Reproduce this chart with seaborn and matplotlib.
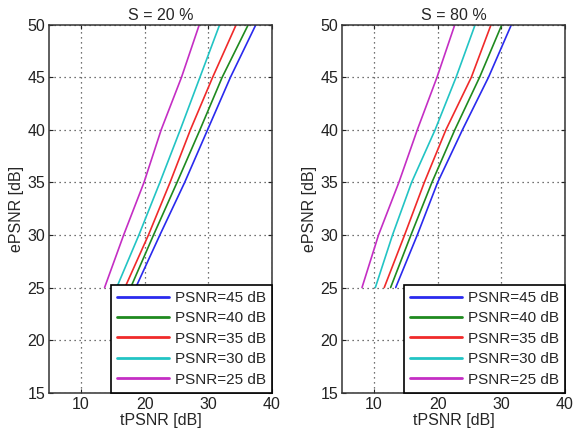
import matplotlib
matplotlib.use("Agg")
import matplotlib.pyplot as plt
import pandas as pd
import seaborn as sns

# ePSNR levels (y) at which the curves were read
epsnr = [25, 30, 35, 40, 45, 50]
labels = ["PSNR=45 dB", "PSNR=40 dB", "PSNR=35 dB", "PSNR=30 dB", "PSNR=25 dB"]

# tPSNR values, S = 20 %
s20_psnr45 = [18.6, 22.4, 26.3, 29.9, 33.5, 37.5]
s20_psnr40 = [17.8, 21.4, 25.1, 28.7, 32.2, 36.3]
s20_psnr35 = [16.9, 20.6, 24.0, 27.2, 30.7, 34.4]
s20_psnr30 = [15.6, 19.1, 22.4, 25.6, 28.7, 31.8]
s20_psnr25 = [13.7, 16.7, 19.9, 22.6, 25.8, 28.6]

# tPSNR values, S = 80 %
s80_psnr45 = [13.4, 16.8, 20.0, 23.9, 28.0, 31.6]
s80_psnr40 = [12.6, 15.8, 19.1, 22.7, 26.6, 30.1]
s80_psnr35 = [11.6, 14.8, 17.9, 21.3, 25.3, 28.4]
s80_psnr30 = [10.2, 12.9, 15.9, 19.6, 22.9, 25.9]
s80_psnr25 = [8.1, 10.7, 13.9, 16.8, 19.9, 22.7]

colors = ["#2a2aee", "#1f8a1f", "#f02a2a", "#22c4c4", "#c42ec4"]


def make_frame(series):
    rows = []
    for lab, xs in zip(labels, series):
        for x, y in zip(xs, epsnr):
            rows.append({"tPSNR": x, "ePSNR": y, "curve": lab})
    return pd.DataFrame(rows)


panels = [
    ("S = 20 %", [s20_psnr45, s20_psnr40, s20_psnr35, s20_psnr30, s20_psnr25]),
    ("S = 80 %", [s80_psnr45, s80_psnr40, s80_psnr35, s80_psnr30, s80_psnr25]),
]

sns.set_style("ticks")
plt.rcParams["font.family"] = ["Liberation Sans", "DejaVu Sans"]
plt.rcParams["font.size"] = 11

fig = plt.figure(figsize=(5.75, 4.32), dpi=100)
lefts = [0.0857, 0.5953]

for left, (title, series) in zip(lefts, panels):
    ax = fig.add_axes([left, 0.091, 0.387, 0.852])
    df = make_frame(series)
    sns.lineplot(data=df, x="tPSNR", y="ePSNR", hue="curve", hue_order=labels,
                 palette=colors, sort=False, estimator=None, linewidth=1.2, ax=ax)
    ax.set_xlim(5, 40)
    ax.set_ylim(15, 50)
    ax.set_xticks([10, 20, 30, 40])
    ax.set_yticks([15, 20, 25, 30, 35, 40, 45, 50])
    ax.grid(True, color="#444444", linestyle=(0, (1, 3)), linewidth=0.9)
    ax.tick_params(direction="in", length=3, top=True, right=True, labelsize=11.5,
                   colors="#222222", pad=3)
    for sp in ax.spines.values():
        sp.set_color("#333333")
        sp.set_linewidth(1.1)
    ax.set_title(title, fontsize=11.5, pad=3)
    ax.set_xlabel("tPSNR [dB]", fontsize=11.5, labelpad=1)
    ax.set_ylabel("ePSNR [dB]", fontsize=11.5, labelpad=2)
    leg = ax.legend(loc="lower right", borderaxespad=0, fancybox=False,
                    framealpha=1, edgecolor="black", fontsize=11,
                    handlelength=3.4, handletextpad=0.4, labelspacing=0.42,
                    borderpad=0.4)
    leg.get_frame().set_linewidth(1.2)
    for h in leg.get_lines():
        h.set_linewidth(2)

fig.savefig("out.png", dpi=100)
